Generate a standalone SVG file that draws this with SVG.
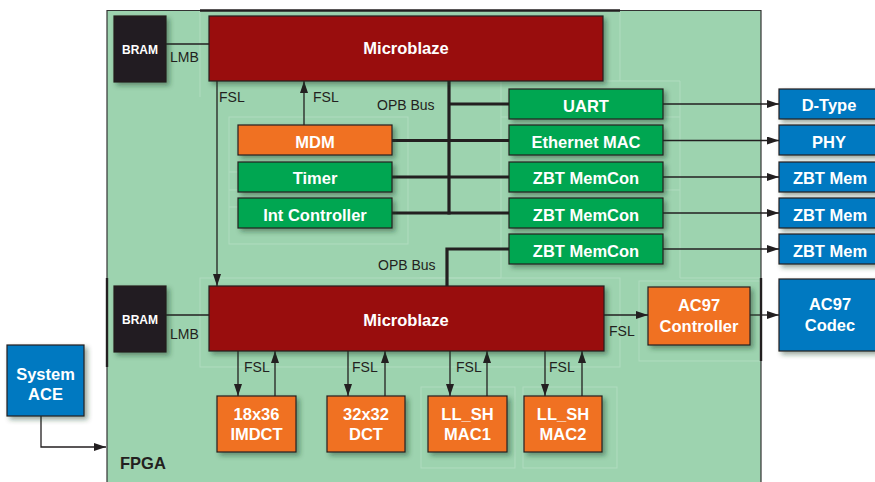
<svg xmlns="http://www.w3.org/2000/svg" width="875" height="482" viewBox="0 0 875 482">
<defs>
<filter id="sh" x="-10%" y="-10%" width="130%" height="140%">
<feDropShadow dx="3" dy="3" stdDeviation="2.5" flood-color="#1a3a25" flood-opacity="0.45"/>
</filter>
<marker id="ah" markerUnits="userSpaceOnUse" markerWidth="12" markerHeight="8" refX="12" refY="4" orient="auto">
<path d="M0,0 L12,4 L0,8 z" fill="#231F20"/>
</marker>
</defs>
<style>
.box{stroke:#231F20;stroke-width:1.2;filter:url(#sh)}
.red{fill:#990A0F}
.blk{fill:#231F20}
.org{fill:#F07124}
.grn{fill:#00A651}
.blu{fill:#0079C1}
.t{font-family:"Liberation Sans",Arial,sans-serif;font-weight:bold;fill:#fff;text-anchor:middle;font-size:16.5px}
.sm{font-size:12px}
.lbl{font-family:"Liberation Sans",Arial,sans-serif;fill:#231F20;font-size:14px}
.ln{stroke:#231F20;stroke-width:1.3;fill:none}
.bus{stroke:#231F20;stroke-width:3.2;fill:none}
.faint{stroke:#B0DCBF;stroke-width:1;fill:none}
</style>
<rect width="875" height="482" fill="#fff"/>
<g id="fpga">
<rect x="107" y="10" width="654" height="480" fill="#9DD3AF"/>
<g class="faint">
<line x1="200" y1="10" x2="200" y2="97"/>
<rect x="229" y="117" width="179" height="127"/>
<line x1="229" y1="172" x2="238" y2="172"/>
<line x1="229" y1="190" x2="238" y2="190"/>
<line x1="229" y1="207" x2="238" y2="207"/>
<line x1="620" y1="10" x2="620" y2="81"/>
<polyline points="501,278 501,81 680,81 680,278"/>
<line x1="501" y1="117" x2="509" y2="117"/>
<line x1="663" y1="117" x2="680" y2="117"/>
<line x1="663" y1="190" x2="680" y2="190"/>
<line x1="420" y1="278" x2="501" y2="278"/>
<line x1="680" y1="278" x2="761" y2="278"/>
<rect x="200" y="278" width="420" height="89"/>
<rect x="639" y="281" width="121" height="80"/>
<rect x="421" y="387" width="94" height="81"/>
<rect x="523" y="387" width="94" height="81"/>
</g>
<line x1="107" y1="10" x2="107" y2="482" stroke="#333" stroke-width="1.2"/>
<line x1="761" y1="10" x2="761" y2="482" stroke="#333" stroke-width="1.2"/>
<line x1="107" y1="10.5" x2="761" y2="10.5" stroke="#333" stroke-width="1.2"/>
<line x1="200" y1="10.5" x2="620" y2="10.5" stroke="#231F20" stroke-width="2.4"/>
<line x1="107" y1="278" x2="107" y2="367" stroke="#231F20" stroke-width="2.4"/>
<line x1="761" y1="278" x2="761" y2="361" stroke="#231F20" stroke-width="2.4"/>
<text x="120" y="469" class="lbl" style="font-weight:bold;font-size:16.5px">FPGA</text>
</g>
<g id="connectors">
<line class="ln" x1="166" y1="44" x2="209" y2="44"/>
<line class="ln" x1="217" y1="81" x2="217" y2="286" marker-end="url(#ah)"/>
<line class="ln" x1="304" y1="125" x2="304" y2="81" marker-end="url(#ah)"/>
<line class="bus" x1="449" y1="81" x2="449" y2="214.5"/>
<line class="bus" x1="449" y1="104" x2="509" y2="104"/>
<line class="bus" x1="392" y1="140.5" x2="509" y2="140.5"/>
<line class="bus" x1="392" y1="177" x2="509" y2="177"/>
<line class="bus" x1="392" y1="213" x2="509" y2="213"/>
<polyline class="bus" points="509,249 447,249 447,286"/>
<line class="ln" x1="663" y1="104" x2="779" y2="104" marker-end="url(#ah)"/>
<line class="ln" x1="663" y1="140.5" x2="779" y2="140.5" marker-end="url(#ah)"/>
<line class="ln" x1="663" y1="177" x2="779" y2="177" marker-end="url(#ah)"/>
<line class="ln" x1="663" y1="213" x2="779" y2="213" marker-end="url(#ah)"/>
<line class="ln" x1="663" y1="249" x2="779" y2="249" marker-end="url(#ah)"/>
<line class="ln" x1="166" y1="315" x2="209" y2="315"/>
<line class="ln" x1="604" y1="315" x2="648" y2="315" marker-end="url(#ah)"/>
<line class="ln" x1="750" y1="315" x2="779" y2="315" marker-end="url(#ah)"/>
<line class="ln" x1="238" y1="351" x2="238" y2="396" marker-end="url(#ah)"/>
<line class="ln" x1="275" y1="396" x2="275" y2="351" marker-end="url(#ah)"/>
<line class="ln" x1="348" y1="351" x2="348" y2="396" marker-end="url(#ah)"/>
<line class="ln" x1="385" y1="396" x2="385" y2="351" marker-end="url(#ah)"/>
<line class="ln" x1="450" y1="351" x2="450" y2="396" marker-end="url(#ah)"/>
<line class="ln" x1="487" y1="396" x2="487" y2="351" marker-end="url(#ah)"/>
<line class="ln" x1="545" y1="351" x2="545" y2="396" marker-end="url(#ah)"/>
<line class="ln" x1="582" y1="396" x2="582" y2="351" marker-end="url(#ah)"/>
<polyline class="ln" points="41,416 41,447 106,447" marker-end="url(#ah)"/>
<text class="lbl" x="170" y="61.5">LMB</text>
<text class="lbl" x="219" y="101.5">FSL</text>
<text class="lbl" x="313" y="101.5">FSL</text>
<text class="lbl" x="377" y="109.5">OPB Bus</text>
<text class="lbl" x="378" y="270">OPB Bus</text>
<text class="lbl" x="170" y="339">LMB</text>
<text class="lbl" x="609" y="336">FSL</text>
<text class="lbl" x="244" y="372">FSL</text>
<text class="lbl" x="352" y="372">FSL</text>
<text class="lbl" x="456" y="372">FSL</text>
<text class="lbl" x="549" y="372">FSL</text>
</g>
<g id="bram1"><rect class="box blk" x="114" y="16" width="52" height="66"/><text class="t sm" x="140" y="54">BRAM</text></g>
<g id="microblaze1"><rect class="box red" x="209" y="16" width="394" height="65"/><text class="t" x="406" y="54">Microblaze</text></g>
<g id="mdm"><rect class="box org" x="238" y="125" width="154" height="30"/><text class="t" x="315" y="148">MDM</text></g>
<g id="timer"><rect class="box grn" x="238" y="162" width="154" height="30"/><text class="t" x="315" y="184">Timer</text></g>
<g id="intc"><rect class="box grn" x="238" y="198" width="154" height="30"/><text class="t" x="315" y="221">Int Controller</text></g>
<g id="uart"><rect class="box grn" x="509" y="89" width="154" height="30"/><text class="t" x="586" y="112">UART</text></g>
<g id="emac"><rect class="box grn" x="509" y="125" width="154" height="30"/><text class="t" x="586" y="148">Ethernet MAC</text></g>
<g id="zbtc1"><rect class="box grn" x="509" y="162" width="154" height="30"/><text class="t" x="586" y="184">ZBT MemCon</text></g>
<g id="zbtc2"><rect class="box grn" x="509" y="198" width="154" height="30"/><text class="t" x="586" y="220.5">ZBT MemCon</text></g>
<g id="zbtc3"><rect class="box grn" x="509" y="234" width="154" height="30"/><text class="t" x="586" y="256.5">ZBT MemCon</text></g>
<g id="dtype"><rect class="box blu" x="779" y="89" width="102" height="30"/><text class="t" x="829" y="110.5">D-Type</text></g>
<g id="phy"><rect class="box blu" x="779" y="125" width="102" height="30"/><text class="t" x="829" y="147.5">PHY</text></g>
<g id="zbtm1"><rect class="box blu" x="779" y="162" width="102" height="30"/><text class="t" x="830" y="184">ZBT Mem</text></g>
<g id="zbtm2"><rect class="box blu" x="779" y="198" width="102" height="30"/><text class="t" x="830" y="220.5">ZBT Mem</text></g>
<g id="zbtm3"><rect class="box blu" x="779" y="234" width="102" height="30"/><text class="t" x="830" y="256.5">ZBT Mem</text></g>
<g id="bram2"><rect class="box blk" x="114" y="286" width="52" height="66"/><text class="t sm" x="140" y="324">BRAM</text></g>
<g id="microblaze2"><rect class="box red" x="209" y="286" width="395" height="65"/><text class="t" x="406" y="326">Microblaze</text></g>
<g id="ac97ctrl"><rect class="box org" x="648" y="287" width="102" height="58"/><text class="t" x="699" y="311">AC97</text><text class="t" x="699" y="331.5">Controller</text></g>
<g id="ac97codec"><rect class="box blu" x="779" y="279" width="102" height="72"/><text class="t" x="830" y="310">AC97</text><text class="t" x="830" y="331">Codec</text></g>
<g id="imdct"><rect class="box org" x="217" y="396" width="79" height="56"/><text class="t" x="256.5" y="420">18x36</text><text class="t" x="256.5" y="440">IMDCT</text></g>
<g id="dct"><rect class="box org" x="327" y="396" width="78" height="56"/><text class="t" x="366" y="420">32x32</text><text class="t" x="366" y="440">DCT</text></g>
<g id="mac1"><rect class="box org" x="428" y="396" width="79" height="56"/><text class="t" x="467.5" y="420">LL_SH</text><text class="t" x="467.5" y="440">MAC1</text></g>
<g id="mac2"><rect class="box org" x="524" y="396" width="78" height="56"/><text class="t" x="563" y="420">LL_SH</text><text class="t" x="563" y="440">MAC2</text></g>
<g id="sysace"><rect class="box blu" x="7" y="345" width="77" height="71"/><text class="t" x="45.5" y="379.5">System</text><text class="t" x="45.5" y="400">ACE</text></g>
</svg>
